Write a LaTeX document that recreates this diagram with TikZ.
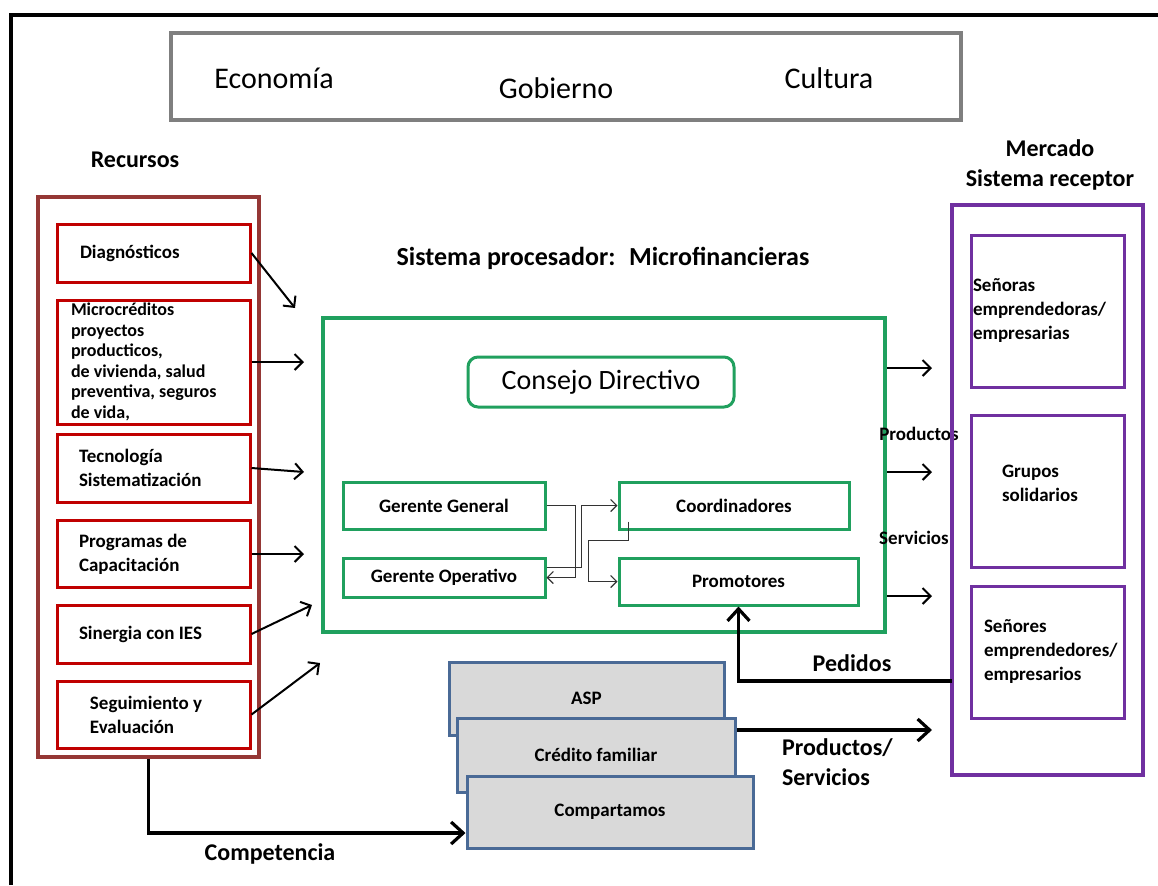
\documentclass[tikz,border=0pt]{standalone}
\usepackage{fontspec}
\setmainfont{Carlito}
\usetikzlibrary{arrows.meta}

\definecolor{envgray}{HTML}{7F7F7F}
\definecolor{recbrown}{HTML}{953735}
\definecolor{recred}{HTML}{C00000}
\definecolor{procgreen}{HTML}{20A05E}
\definecolor{mktpurple}{HTML}{7030A0}
\definecolor{stackfill}{HTML}{D9D9D9}
\definecolor{stackblue}{HTML}{4A6A96}

\begin{document}
\begin{tikzpicture}[x=0.5pt, y=-0.5pt, >={Straight Barb[length=4pt,width=8pt]}]
  % definition of the styles.
  \tikzset{
    big/.style={font=\fontsize{15}{18}\selectfont},
    head/.style={font=\bfseries\fontsize{12}{15}\selectfont},
    small/.style={font=\bfseries\fontsize{9.5}{12}\selectfont},
    recbox/.style={draw=recred, line width=1.5pt, minimum width=96.5pt, text width=74.5pt, inner xsep=11pt, align=flush left, small},
    grnbox/.style={draw=procgreen, line width=1.5pt, minimum width=101pt, minimum height=23.5pt, small},
    mktbox/.style={draw=mktpurple, line width=1.5pt, minimum width=76.5pt, align=flush left, small},
    stackbox/.style={draw=stackblue, fill=stackfill, line width=1.5pt, small},
    flow/.style={->, line width=1pt},
    bigflow/.style={-{Straight Barb[length=6pt,width=11pt]}, line width=1.6pt},
    mgr/.style={-{Straight Barb[length=3pt,width=6pt]}, line width=0.6pt, draw=black!80}
  }
  \useasboundingbox (0,0) rectangle (1158,885);

  % The frame
  \draw[line width=2pt] (11,885) -- (11,15) -- (1158,15);

  % The environment
  \node[draw=envgray, line width=2pt, minimum width=395pt, minimum height=43.5pt] (env) at (566,76.5) {};
  \node[big] (eco) at (274,78) {Economía};
  \node[big] (gob) at (556,88) {Gobierno};
  \node[big] (cul) at (829,78) {Cultura};

  % Resources
  \node[head] (rtitle) at (135,160) {Recursos};
  \node[draw=recbrown, line width=2pt, minimum width=110.5pt, minimum height=280pt] (rec) at (148.5,477) {};
  \node[recbox, minimum height=29pt, inner xsep=11.5pt, text width=73.5pt] (diag) at (153.5,253) {Diagnósticos};
  \node[recbox, minimum height=62pt, inner xsep=7pt, inner ysep=0pt, text width=82.5pt,
        font=\bfseries\fontsize{9}{10.25}\selectfont] (micro) at (153.5,362)
    {Microcréditos\\ proyectos\\ producticos,\\ de vivienda, salud\\ preventiva, seguros\\ de vida,};
  \node[recbox, minimum height=34pt] (tec) at (153.5,468) {Tecnología\\ Sistematización};
  \node[recbox, minimum height=33.5pt] (prog) at (153.5,554) {Programas de\\ Capacitación};
  \node[recbox, minimum height=29pt] (sin) at (153.5,634) {Sinergia con IES};
  \node[recbox, minimum height=33.5pt, inner xsep=16.5pt, text width=63.5pt] (seg) at (153.5,714.5) {Seguimiento y\\ Evaluación};

  % Processing system
  \node[font=\bfseries\fontsize{13}{15}\selectfont] (ptitle) at (603,258) {Sistema procesador:~ Microfinancieras};
  \node[draw=procgreen, line width=2pt, minimum width=281pt, minimum height=157pt] (proc) at (604,475) {};
  \node[draw=procgreen, line width=1.5pt, rounded corners=5pt, minimum width=133pt, minimum height=25pt,
        font=\fontsize{14}{16}\selectfont] (board) at (601,382) {Consejo Directivo};
  \node[grnbox] (gg) at (444,505.5) {Gerente General};
  \node[grnbox, minimum height=19.5pt] (go) at (444,577.5) {Gerente Operativo};
  \node[grnbox, minimum width=115pt] (coo) at (734,505.5) {Coordinadores};
  \node[grnbox, minimum width=119.5pt] (pro) at (738.5,581.5) {Promotores};

  % links between the managers
  \draw[mgr] (gg.east) -- ++(29,0) |- (go.east);
  \draw[mgr] ([yshift=5pt]go.east) -- ++(35,0) |- (coo.west);
  \coordinate (cs) at ([xshift=5.5pt,yshift=4.5pt]coo.south west);
  \draw[mgr] (cs) -- ++(0,19) -- ++(-40,0) |- (pro.west);

  % Inputs
  \foreach \src/\tx/\ty in {diag/295/308, micro/304/362, tec/304/472, prog/304/554, sin/312/605, seg/320/663} {
    \coordinate (in-\src) at (\tx,\ty);
    \draw[flow] (\src.east) -- (in-\src);
  }

  % Outputs
  \foreach \n/\ty in {1/368, 2/472, 3/596} {
    \coordinate (out\n) at (932,\ty);
    \draw[flow] (proc.east |- out\n) -- (out\n);
  }
  \node[small] (prod) at (919,434) {Productos};
  \node[small] (serv) at (914,538) {Servicios};

  % Market
  \node[head, align=center] (mtitle) at (1050,165) {Mercado\\ Sistema receptor};
  \node[draw=mktpurple, line width=2pt, minimum width=95.5pt, minimum height=285pt] (mkt) at (1047.5,490) {};
  \node[mktbox, minimum height=76pt, inner xsep=1pt, text width=74.5pt] (sras) at (1047.5,311) {Señoras\\ emprendedoras/\\ empresarias};
  \node[mktbox, minimum height=76pt, inner xsep=15.5pt, text width=45.5pt, text depth=20pt] (grp) at (1047.5,491) {Grupos\\ solidarios};
  \node[mktbox, minimum height=66pt, inner xsep=6.5pt, text width=63.5pt] (sres) at (1047.5,652) {Señores\\ emprendedores/\\ empresarios};

  % Requests
  \coordinate (ped) at (952,681);
  \draw[bigflow] (ped) -| (pro.south);
  \node[head] (pedl) at (852,663) {Pedidos};

  % Competitors
  \node[stackbox, minimum width=137.5pt, minimum height=36.5pt] (asp) at (586.5,698.5) {ASP};
  \node[stackbox, minimum width=139pt, minimum height=37pt] (cred) at (596,755) {Crédito familiar};
  \node[stackbox, minimum width=143pt, minimum height=36pt] (comp) at (610,812) {Compartamos};

  \coordinate (ps) at (932,730);
  \draw[bigflow] ([yshift=12.5pt]cred.east) -- (ps);
  \node[head, align=left, anchor=west] (psl) at (775,762) {Productos/\\ Servicios};

  \draw[bigflow] (rec.south) |- ([yshift=-10.5pt]comp.west);
  \node[head] (compl) at (270,854) {Competencia};
\end{tikzpicture}
\end{document}
